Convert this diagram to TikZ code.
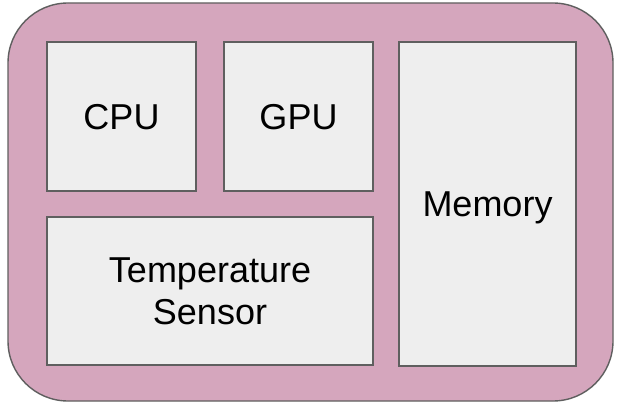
\documentclass[tikz,border=0pt]{standalone}
\usepackage{fontspec}
\setmainfont{Liberation Sans}
\definecolor{shellfill}{HTML}{D5A6BD}
\definecolor{chipfill}{HTML}{EEEEEE}
\definecolor{chipedge}{HTML}{5F5F5F}
\begin{document}
\begin{tikzpicture}[x=1pt,y=-1pt,
  board/.style={draw=chipedge, fill=shellfill, line width=1.4pt,
    rounded corners=60pt, inner sep=0pt},
  unit/.style={draw=chipedge, fill=chipfill, line width=1.3pt, inner sep=0pt,
    font=\fontsize{36}{42}\selectfont, text height=25.8pt, text depth=0pt,
    align=center},
]
\useasboundingbox (0,0) rectangle (617,403);
% outer board
\node[board, minimum width=605pt, minimum height=398pt] (soc) at (310.5,202) {};
% components
\node[unit, minimum width=149pt, minimum height=149pt] (cpu) at (121.5,116.5) {CPU};
\node[unit, minimum width=149pt, minimum height=149pt] (gpu) at (298.5,116.5) {GPU};
% two-line label: height spans cap top of line 1 to baseline of line 2
\node[unit, minimum width=326pt, minimum height=148pt, text height=67.8pt]
  (sensor) at (210,291) {Temperature\\Sensor};
\node[unit, minimum width=177pt, minimum height=324pt] (mem) at (487.5,204) {Memory};
\end{tikzpicture}
\end{document}
